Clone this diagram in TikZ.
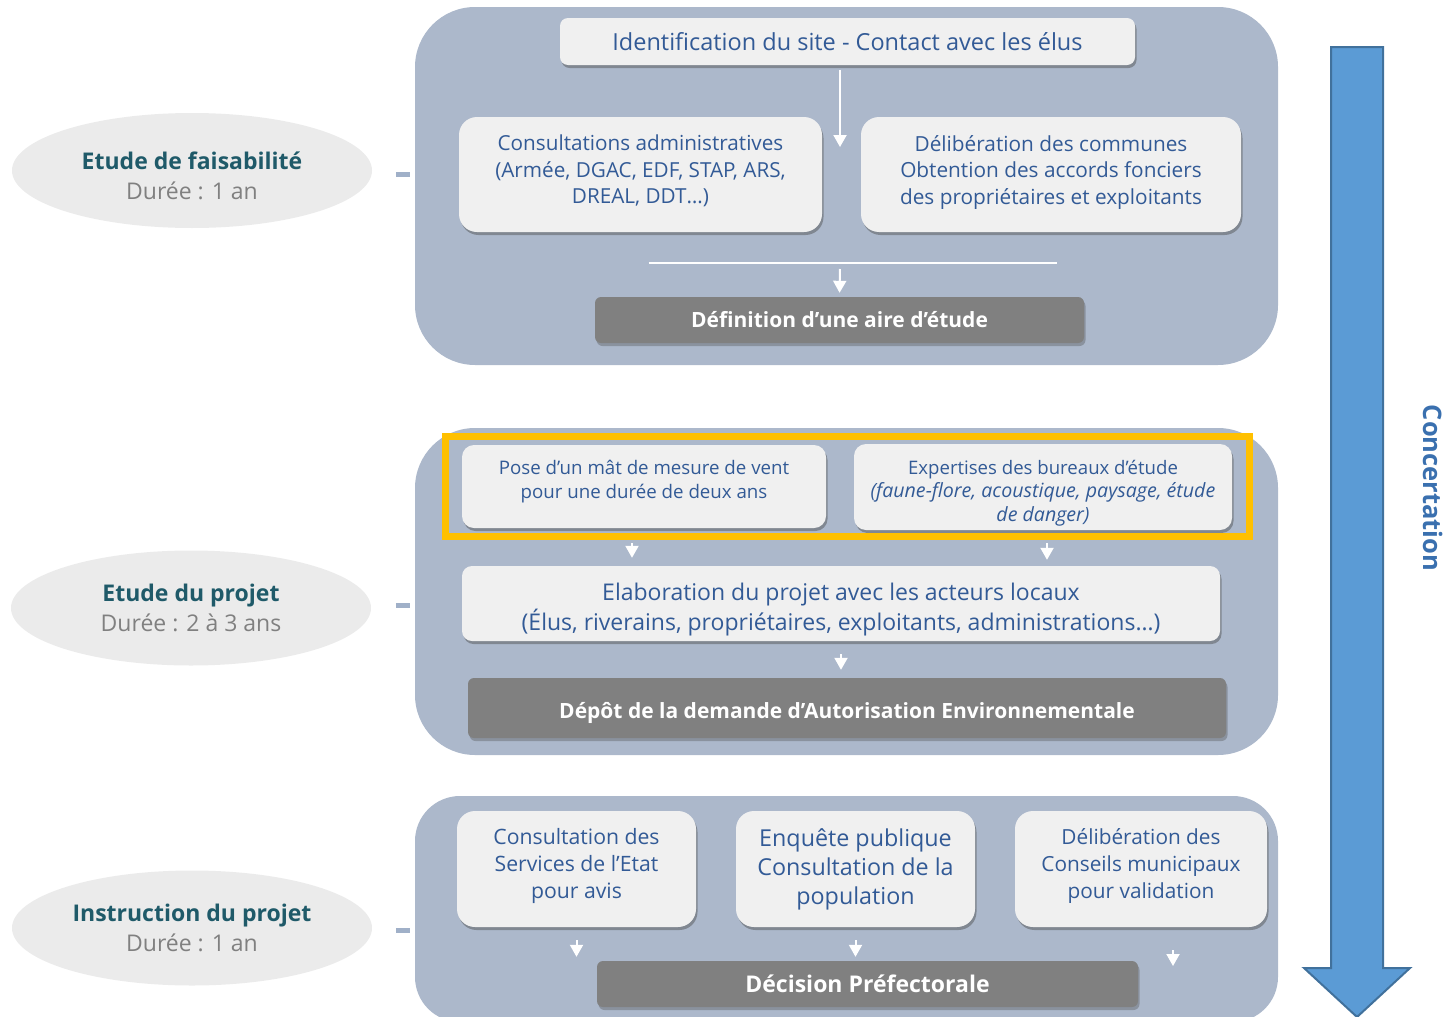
\documentclass[tikz,border=0pt]{standalone}
\usepackage{fontspec}
\setmainfont{Open Sans}
\usetikzlibrary{arrows.meta,shapes.geometric,shadows}

\definecolor{panelbg}{RGB}{172,184,203}
\definecolor{boxbg}{RGB}{240,240,240}
\definecolor{boxtxt}{RGB}{50,90,150}
\definecolor{darkbg}{RGB}{128,128,128}
\definecolor{phasebg}{RGB}{235,235,235}
\definecolor{phasetxt}{RGB}{31,90,105}
\definecolor{durtxt}{RGB}{128,128,128}
\definecolor{marker}{RGB}{160,176,200}
\definecolor{hilite}{RGB}{255,192,0}
\definecolor{bigarrow}{RGB}{91,155,213}
\definecolor{bigedge}{RGB}{65,113,156}
\definecolor{concert}{RGB}{58,112,175}

\tikzset{
  panel/.style={fill=panelbg, rounded corners=60, inner sep=0},
  lightbox/.style={fill=boxbg, rounded corners=14, inner sep=0, align=center, text=boxtxt,
    drop shadow={shadow xshift=1.5pt, shadow yshift=-3pt, opacity=.45, fill=black!70}},
  darkbox/.style={fill=darkbg, rounded corners=6, inner sep=0, text=white, align=center,
    font=\fontsize{21}{26}\selectfont\bfseries,
    drop shadow={shadow xshift=1.5pt, shadow yshift=-3pt, opacity=.35, fill=black!70}},
  phase/.style={ellipse, fill=phasebg, inner sep=0, minimum width=360, minimum height=115, align=center,
    font=\fontsize{23}{30}\selectfont},
  flow/.style={draw=white, line width=2pt, -{Triangle[width=13pt,length=12pt]}},
  flowline/.style={draw=white, line width=1.5pt},
  tick/.style={draw=marker, line width=5pt}
}
\newcommand{\phasetitle}[2]{{\bfseries\color{phasetxt}#1}\\{\color{durtxt}#2}}

\begin{document}
\begin{tikzpicture}[x=1pt,y=1pt,yscale=-1,xscale=1]
    \useasboundingbox (0,0) rectangle (1448,1017);
    \clip (0,0) rectangle (1448,1017);
    % Phase Nodes
    \node[phase, text height=58.5pt] (feasib) at (192,170.5) {\phasetitle{Etude de faisabilité}{Durée : 1 an}};
    \node[phase] (projet) at (191,608) {\phasetitle{Etude du projet}{Durée : 2 à 3 ans}};
    \node[phase] (instruc) at (192,928) {\phasetitle{Instruction du projet}{Durée : 1 an}};
    % Panels
    \node[panel, minimum width=863, minimum height=358] (top) at (846.5,186) {};
    \node[panel, minimum width=863, minimum height=327] (mid) at (846.5,591.5) {};
    \node[panel, rounded corners=45, minimum width=863, minimum height=226] (bot) at (846.5,909) {};
    % Ticks
    \draw[tick] (top.west |- 0,174) ++(-19,0) -- ++(14,0);
    \draw[tick] (mid.west |- 0,605) ++(-19,0) -- ++(14,0);
    \draw[tick] (bot.west |- 0,930) ++(-19,0) -- ++(14,0);
    % Text Node
    \node[lightbox, rounded corners=8, minimum width=575, minimum height=47, font=\fontsize{23.5}{28}\selectfont] (ident) at (847.5,41.5) {Identification du site - Contact avec les élus};
    \node[lightbox, rounded corners=18, minimum width=363, minimum height=115, text depth=10.3pt, font=\fontsize{20.7}{26.5}\selectfont] (consult) at (640.5,174.5) {Consultations administratives\\(Armée, DGAC, EDF, STAP, ARS,\\DREAL, DDT…)};
    \node[lightbox, rounded corners=18, minimum width=380, minimum height=115, text depth=9pt, font=\fontsize{20.8}{26.5}\selectfont] (delib) at (1051,174.5) {Délibération des communes\\Obtention des accords fonciers\\des propriétaires et exploitants};
    \node[darkbox, minimum width=489, minimum height=46] (defin) at (839.5,320) {Définition d’une aire d’étude};
    % Text Node
    \node[lightbox, rounded corners=12, minimum width=364, minimum height=83, text depth=14.5pt, font=\fontsize{18.7}{24}\selectfont] (pose) at (644,486.5) {Pose d’un mât de mesure de vent\\pour une durée de deux ans};
    \node[lightbox, rounded corners=12, minimum width=378, minimum height=86, text height=73pt, font=\fontsize{18.6}{23.5}\selectfont] (expert) at (1043,487) {Expertises des bureaux d’étude\\{\fontsize{19.6}{23.5}\selectfont\itshape(faune-flore, acoustique, paysage, étude}\\{\fontsize{19.6}{23.5}\selectfont\itshape de danger)}};
    \node[lightbox, rounded corners=10, minimum width=758, minimum height=75, text height=59.5pt, font=\fontsize{23}{30}\selectfont] (elab) at (841,603.5) {Elaboration du projet avec les acteurs locaux\\(Élus, riverains, propriétaires, exploitants, administrations…)};
    \node[darkbox, minimum width=758, minimum height=60, text height=26pt] (depot) at (847,708) {Dépôt de la demande d’Autorisation Environnementale};
    \draw[hilite, line width=7pt] (445,436) rectangle (1249,536);
    % Text Node
    \node[lightbox, rounded corners=18, minimum width=239, minimum height=116, text depth=11pt, font=\fontsize{21.2}{27}\selectfont] (csvc) at (576.5,869) {Consultation des\\Services de l’Etat\\pour avis};
    \node[lightbox, rounded corners=18, minimum width=239, minimum height=116, font=\fontsize{23.3}{29}\selectfont] (enq) at (855.5,869) {Enquête publique\\Consultation de la\\population};
    \node[lightbox, rounded corners=18, minimum width=252, minimum height=116, text depth=11pt, font=\fontsize{20.8}{27}\selectfont] (dcons) at (1141,869) {Délibération des\\Conseils municipaux\\pour validation};
    \node[darkbox, minimum width=541, minimum height=46, font=\fontsize{23}{28}\selectfont\bfseries] (decis) at (867.5,984) {Décision Préfectorale};
    % Connection
    \coordinate (fork) at (840,147);
    \coordinate (join) at (840,263);
    \coordinate (endc) at (1173,966);
    \draw[flow, shorten <=5pt] (ident.south -| fork) -- (fork);
    \draw[flowline] ([xshift=8pt]consult.south |- join) -- ([xshift=6pt]delib.south |- join);
    \draw[flow, shorten <=6pt, shorten >=4pt] (join) -- (defin.north);
    \draw[flow, shorten <=15pt, shorten >=8pt] ([xshift=-12pt]pose.south) -- ([xshift=-12pt]pose.south |- elab.north);
    \draw[flow, shorten <=13pt, shorten >=6pt] ([xshift=4pt]expert.south) -- ([xshift=4pt]expert.south |- elab.north);
    \draw[flow, shorten <=13pt, shorten >=8pt] (elab.south) -- (elab.south |- depot.north);
    \draw[flow, shorten <=13pt, shorten >=4pt] (csvc.south) -- (csvc.south |- decis.north);
    \draw[flow, shorten <=13pt, shorten >=4pt] (enq.south) -- (enq.south |- decis.north);
    \draw[flow, shorten <=23pt] (dcons.south -| endc) -- (endc);
    % Concertation Arrow
    \draw[fill=bigarrow, draw=bigedge, line width=2pt, line join=miter] (1331,47) -- (1383,47) -- (1383,968) -- (1410,968) -- (1357,1017) -- (1304,968) -- (1331,968) -- cycle;
    \node[rotate=-90, text=concert, font=\fontsize{25.5}{30}\selectfont\bfseries] (concertation) at (1433,488) {Concertation};

\end{tikzpicture}
\end{document}
